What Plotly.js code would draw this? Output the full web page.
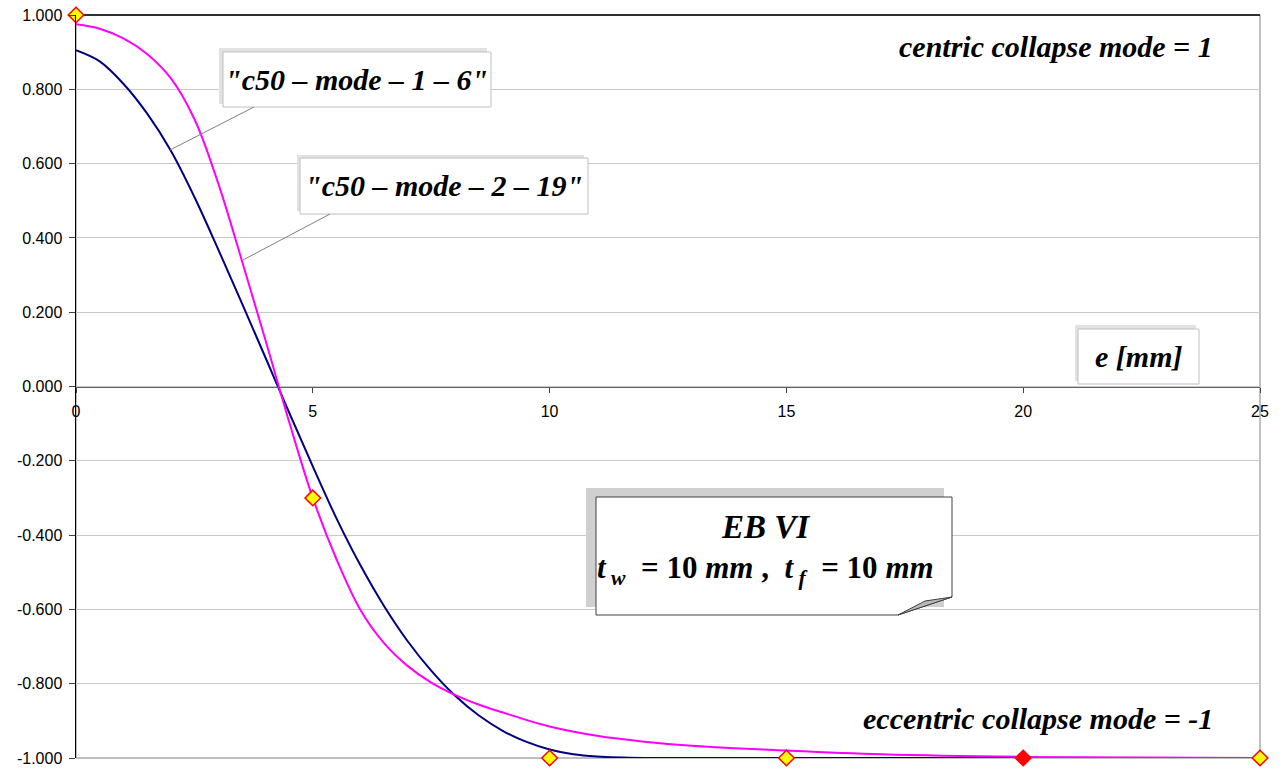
<!DOCTYPE html>
<html><head><meta charset="utf-8">
<script src="https://cdn.plot.ly/plotly-3.0.1.min.js"></script>
<style>html,body{margin:0;padding:0;background:#fff}#chart{width:1285px;height:771px}</style>
</head><body><div id="chart"></div>
<script>
// ---- data ----
const xMode1 = [0, 0.5, 1, 1.5, 2, 2.5, 3, 3.5, 4, 4.5, 5, 5.5, 6, 6.5, 7, 7.5, 8, 8.5, 9, 9.5, 10, 10.5, 11, 12, 13, 15, 20, 25];
const yMode1 = [0.905, 0.875, 0.815, 0.735, 0.635, 0.51, 0.37, 0.225, 0.078, -0.07, -0.215, -0.355, -0.48, -0.59, -0.685, -0.765, -0.832, -0.885, -0.926, -0.956, -0.977, -0.99, -0.996, -1.0, -1.0, -1.0, -1.0, -1.0];
const xMode2 = [0, 0.5, 1, 1.5, 2, 2.5, 3, 3.5, 4, 4.5, 5, 5.5, 6, 6.5, 7, 7.5, 8, 8.5, 9, 10, 11, 12, 13, 15, 17, 20, 25];
const yMode2 = [0.975, 0.963, 0.937, 0.895, 0.83, 0.72, 0.548, 0.34, 0.125, -0.095, -0.30, -0.465, -0.6, -0.69, -0.752, -0.797, -0.83, -0.856, -0.877, -0.915, -0.94, -0.956, -0.967, -0.98, -0.99, -0.997, -1.0];
const xMarkers = [0, 5, 10, 15, 20, 25];
const yMarkers = [1, -0.3, -1, -1, -1, -1];
const markerFill = ['#ffff00', '#ffff00', '#ffff00', '#ffff00', '#ff0000', '#ffff00'];
const yTickVals = [1, 0.8, 0.6, 0.4, 0.2, 0, -0.2, -0.4, -0.6, -0.8, -1];
const yTickText = ['1.000', '0.800', '0.600', '0.400', '0.200', '0.000', '-0.200', '-0.400', '-0.600', '-0.800', '-1.000'];
const xTickVals = [0, 5, 10, 15, 20, 25];
const xTickText = ['0', '5', '10', '15', '20', '25'];
const label1 = '"c50 – mode – 1 – 6"';
const label2 = '"c50 – mode – 2 – 19"';
const axisLabel = 'e [mm]';
const topNote = 'centric collapse mode = 1';
const bottomNote = 'eccentric collapse mode = -1';
const boxTitle = 'EB VI';
const boxLine2 = '<i>t</i><sub> <i>w</i></sub>  = 10 <i>mm</i> ,  <i>t</i><sub> <i>f</i></sub>  = 10 <i>mm</i>';

// ---- geometry helpers (pixel -> paper) ----
const W = 1285, H = 771, L = 76, R = 1260, T = 15, B = 758;
const px = v => (v - L) / (R - L);
const py = v => (B - v) / (B - T);
const SERIF = 'Liberation Serif, Times New Roman, serif';
const SANS = 'Liberation Sans, Arial, sans-serif';

function rect(x0, y0, x1, y1, fill, line, lw) {
  return {type: 'rect', xref: 'paper', yref: 'paper', x0: px(x0), x1: px(x1), y0: py(y1), y1: py(y0),
    fillcolor: fill, line: {color: line, width: lw}, layer: 'above'};
}
function seg(x0, y0, x1, y1, color) {
  return {type: 'line', xref: 'paper', yref: 'paper', x0: px(x0), x1: px(x1), y0: py(y0), y1: py(y1),
    line: {color: color, width: 1}, layer: 'above'};
}
function pathPx(pts) {
  return 'M ' + pts.map(p => px(p[0]) + ',' + py(p[1])).join(' L ') + ' Z';
}
function note(x, y, text, size, anchor) {
  return {xref: 'paper', yref: 'paper', x: px(x), y: py(y), text: text, showarrow: false,
    xanchor: anchor || 'center', yanchor: 'middle', font: {family: SERIF, size: size, color: '#000'}};
}

const traces = [
  {x: xMode1, y: yMode1, type: 'scatter', mode: 'lines', line: {color: '#000080', width: 2, shape: 'spline', smoothing: 1}, hoverinfo: 'skip'},
  {x: xMode2, y: yMode2, type: 'scatter', mode: 'lines', line: {color: '#ff00ff', width: 2, shape: 'spline', smoothing: 1}, hoverinfo: 'skip'},
  {x: xMarkers, y: yMarkers, type: 'scatter', mode: 'markers', cliponaxis: false,
   marker: {symbol: 'diamond', size: 12, color: markerFill, line: {color: '#ff0000', width: 1.5}}, hoverinfo: 'skip'}
];

const shapes = [
  {type: 'rect', xref: 'paper', yref: 'paper', x0: 0, x1: 1, y0: 0, y1: 1, line: {color: '#808080', width: 1}, layer: 'below'},
  {type: 'line', xref: 'paper', yref: 'paper', x0: 0, x1: 1, y0: 1, y1: 1, line: {color: '#000', width: 1.5}, layer: 'below'},
  // label 1
  rect(219, 48, 487, 104, '#e2e2e2', '#e2e2e2', 0),
  rect(223, 52, 491, 107, '#ffffff', '#c0c0c0', 1),
  seg(254, 107, 170, 150, '#808080'),
  // label 2
  rect(297, 155, 584, 211, '#e2e2e2', '#e2e2e2', 0),
  rect(300, 158, 588, 214, '#ffffff', '#c0c0c0', 1),
  seg(330, 214, 243, 260, '#808080'),
  // e [mm]
  rect(1075, 325, 1196, 381, '#e2e2e2', '#e2e2e2', 0),
  rect(1078, 329, 1199, 384, '#ffffff', '#c0c0c0', 1),
  // EB VI box
  rect(586, 488, 944, 607, '#d0d0d0', '#d0d0d0', 0),
  {type: 'path', xref: 'paper', yref: 'paper', path: pathPx([[596, 497], [952, 497], [952, 597], [898, 615], [596, 615]]),
   fillcolor: '#ffffff', line: {color: '#404040', width: 1}, layer: 'above'},
  {type: 'path', xref: 'paper', yref: 'paper', path: pathPx([[952, 597], [925, 601], [898, 615]]),
   fillcolor: '#b8b8b8', line: {color: '#404040', width: 1}, layer: 'above'}
];

const annotations = [
  note(356, 79, '<b><i>' + label1 + '</i></b>', 30),
  note(444, 186, '<b><i>' + label2 + '</i></b>', 30),
  note(1138, 357, '<b><i>' + axisLabel + '</i></b>', 30),
  note(1215, 47, '<b><i>' + topNote + '</i></b>', 30, 'right'),
  note(1215, 718, '<b><i>' + bottomNote + '</i></b>', 30, 'right'),
  note(765, 527, '<b><i>' + boxTitle + '</i></b>', 33),
  note(765, 570, '<b>' + boxLine2 + '</b>', 31)
];

const layout = {
  width: W, height: H,
  margin: {l: L, r: W - R, t: T, b: H - B, pad: 0},
  paper_bgcolor: '#ffffff', plot_bgcolor: '#ffffff',
  showlegend: false,
  xaxis: {range: [0, 25], tickvals: xTickVals, ticktext: xTickText, anchor: 'free', position: 0.5,
    showline: true, linecolor: '#606060', linewidth: 1.5, ticks: 'outside', ticklen: 5, tickcolor: '#404040',
    ticklabelstandoff: 5,
    showgrid: false, zeroline: false, tickfont: {family: SANS, size: 16, color: '#000'}, fixedrange: true},
  yaxis: {range: [-1, 1], tickvals: yTickVals, ticktext: yTickText,
    showline: true, linecolor: '#000000', linewidth: 1.5, ticks: 'outside', ticklen: 6, tickcolor: '#404040',
    ticklabelstandoff: 3,
    showgrid: true, gridcolor: '#c8c8c8', gridwidth: 1, zeroline: false,
    tickfont: {family: SANS, size: 16, color: '#000'}, fixedrange: true},
  shapes: shapes,
  annotations: annotations
};

Plotly.newPlot('chart', traces, layout, {displayModeBar: false, staticPlot: true});
</script>
</body></html>
